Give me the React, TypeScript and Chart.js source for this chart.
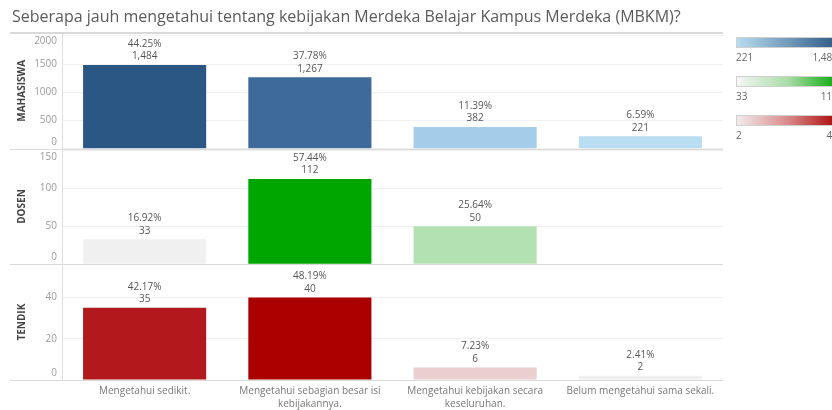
import React, { useEffect, useRef } from "react";
import { Chart, registerables } from "chart.js";

Chart.register(...registerables);

const titleText = "Seberapa jauh mengetahui tentang kebijakan Merdeka Belajar Kampus Merdeka (MBKM)?";
const categories = [
  ["Mengetahui sedikit."],
  ["Mengetahui sebagian besar isi", "kebijakannya."],
  ["Mengetahui kebijakan secara", "keseluruhan."],
  ["Belum mengetahui sama sekali."],
];
const rowNames = ["MAHASISWA", "DOSEN", "TENDIK"];

const mahasiswaValues = [1484, 1267, 382, 221];
const mahasiswaPct = [44.25, 37.78, 11.39, 6.59];
const dosenValues = [33, 112, 50, null];
const dosenPct = [16.92, 57.44, 25.64, null];
const tendikValues = [35, 40, 6, 2];
const tendikPct = [42.17, 48.19, 7.23, 2.41];

const mahasiswaTicks = [0, 500, 1000, 1500, 2000];
const dosenTicks = [0, 50, 100, 150];
const tendikTicks = [0, 20, 40];
const axisMax = [2050, 152, 56];

const mahasiswaColors = ["#2a5783", "#3e6a99", "#a3cde9", "#b9ddf1"];
const dosenColors = ["#f0f0f0", "#00a600", "#b4e1b2", "#f0f0f0"];
const tendikColors = ["#b2191c", "#aa0000", "#e9cfcf", "#efefef"];

const legendStops = [
  { from: "#b9ddf1", to: "#2a5783", mid: null, lo: "221", hi: "1,484" },
  { from: "#f7f7f7", to: "#00a800", mid: "#a8dca6", lo: "33", hi: "112" },
  { from: "#f3eeee", to: "#a90000", mid: "#d98a8a", lo: "2", hi: "40" },
];

const FONT = "'Open Sans', 'DejaVu Sans', sans-serif";

export default function App() {
  const ref = useRef<HTMLCanvasElement | null>(null);

  useEffect(() => {
    document.body.style.margin = "0";
    const canvas = ref.current;
    if (!canvas) return;

    const pctSets = [mahasiswaPct, dosenPct, tendikPct];
    const tickSets = [mahasiswaTicks, dosenTicks, tendikTicks];
    const axisIds = ["y1", "y2", "y3"];

    const decorPlugin = {
      id: "decor",
      beforeDraw(chart: any) {
        const ctx = chart.ctx;
        ctx.save();
        ctx.fillStyle = "#ffffff";
        ctx.fillRect(0, 0, chart.width, chart.height);
        ctx.restore();
      },
      afterDatasetsDraw(chart: any) {
        const ctx = chart.ctx;
        const area = chart.chartArea;
        ctx.save();
        // title
        ctx.font = `16px ${FONT}`;
        ctx.fillStyle = "#5a5a5a";
        ctx.textAlign = "left";
        ctx.textBaseline = "middle";
        ctx.fillText(titleText, 12, 17);

        // pane separators
        ctx.strokeStyle = "#d9d9d9";
        ctx.lineWidth = 2;
        ctx.beginPath();
        ctx.moveTo(10, area.top);
        ctx.lineTo(area.right, area.top);
        ctx.stroke();
        ctx.lineWidth = 1;
        axisIds.forEach((id) => {
          const s = chart.scales[id];
          const y = Math.round(s.bottom) + 0.5;
          ctx.beginPath();
          ctx.moveTo(10, y);
          ctx.lineTo(area.right, y);
          ctx.stroke();
        });

        // row titles & tick labels
        axisIds.forEach((id, i) => {
          const s = chart.scales[id];
          const cy = (s.top + s.bottom) / 2;
          ctx.save();
          ctx.translate(22, cy);
          ctx.rotate(-Math.PI / 2);
          ctx.font = `bold 10px ${FONT}`;
          ctx.fillStyle = "#444444";
          ctx.textAlign = "center";
          ctx.textBaseline = "middle";
          ctx.fillText(rowNames[i], 0, 0);
          ctx.restore();

          ctx.font = `10px ${FONT}`;
          ctx.fillStyle = "#9a9a9a";
          ctx.textAlign = "right";
          ctx.textBaseline = "middle";
          tickSets[i].forEach((v) => {
            let y = s.getPixelForValue(v);
            y = Math.max(s.top + 8, Math.min(s.bottom - 7, y));
            ctx.fillText(String(v), 57, y);
          });
        });

        // x category labels
        const xs = chart.scales.x;
        ctx.font = `10px ${FONT}`;
        ctx.fillStyle = "#777777";
        ctx.textAlign = "center";
        ctx.textBaseline = "middle";
        categories.forEach((lines, j) => {
          const x = xs.getPixelForValue(j);
          lines.forEach((t, k) => ctx.fillText(t, x, 391 + k * 13));
        });

        // data labels
        chart.data.datasets.forEach((ds: any, di: number) => {
          const meta = chart.getDatasetMeta(di);
          meta.data.forEach((el: any, j: number) => {
            const v = ds.data[j];
            if (v === null || v === undefined) return;
            ctx.font = `10px ${FONT}`;
            ctx.fillStyle = "#555555";
            ctx.textAlign = "center";
            ctx.textBaseline = "middle";
            ctx.fillText(pctSets[di][j].toFixed(2) + "%", el.x, el.y - 21);
            ctx.fillText(Number(v).toLocaleString("en-US"), el.x, el.y - 8.5);
          });
        });

        // legends
        const lx = 736;
        const lw = 104;
        const lys = [37, 76, 115];
        legendStops.forEach((lg, i) => {
          const y = lys[i];
          const g = ctx.createLinearGradient(lx, 0, lx + lw, 0);
          g.addColorStop(0, lg.from);
          if (lg.mid) g.addColorStop(0.5, lg.mid);
          g.addColorStop(1, lg.to);
          ctx.fillStyle = g;
          ctx.fillRect(lx, y, lw, 11);
          ctx.strokeStyle = "#cfcfcf";
          ctx.lineWidth = 1;
          ctx.strokeRect(lx + 0.5, y + 0.5, lw - 1, 10);
          ctx.font = `10px ${FONT}`;
          ctx.fillStyle = "#666666";
          ctx.textBaseline = "middle";
          ctx.textAlign = "left";
          ctx.fillText(lg.lo, lx, y + 21);
          ctx.textAlign = "right";
          ctx.fillText(lg.hi, lx + 102, y + 21);
        });
        ctx.restore();
      },
    };

    const yScale = (i: number) => ({
      type: "linear",
      position: "left",
      stack: "rows",
      stackWeight: 1,
      min: 0,
      max: axisMax[i],
      afterBuildTicks: (s: any) => {
        s.ticks = tickSets[i].map((v) => ({ value: v }));
      },
      afterFit: (s: any) => {
        s.width = 52;
      },
      ticks: { display: false },
      grid: { color: "#f1f1f1", drawTicks: false },
      border: { color: "#dddddd" },
    });

    const chart = new Chart(canvas, {
      type: "bar",
      data: {
        labels: categories.map((c) => c.join(" ")),
        datasets: [
          { data: mahasiswaValues, backgroundColor: mahasiswaColors, yAxisID: "y1", grouped: false } as any,
          { data: dosenValues, backgroundColor: dosenColors, yAxisID: "y2", grouped: false } as any,
          { data: tendikValues, backgroundColor: tendikColors, yAxisID: "y3", grouped: false } as any,
        ],
      },
      options: {
        responsive: false,
        animation: false,
        layout: { padding: { top: 33, left: 10, right: 109, bottom: 0 } },
        datasets: { bar: { barPercentage: 0.745, categoryPercentage: 1 } },
        plugins: { legend: { display: false }, tooltip: { enabled: false }, title: { display: false } },
        scales: {
          x: {
            grid: { display: false },
            border: { display: false },
            afterFit: (s: any) => {
              s.height = 30;
            },
            ticks: { display: false },
          },
          y3: yScale(2),
          y2: yScale(1),
          y1: yScale(0),
        } as any,
      },
      plugins: [decorPlugin],
    });
    return () => chart.destroy();
  }, []);

  return (
    <div style={{ width: 832, height: 410 }}>
      <canvas ref={ref} width={832} height={410} style={{ display: "block", width: 832, height: 410 }} />
    </div>
  );
}
